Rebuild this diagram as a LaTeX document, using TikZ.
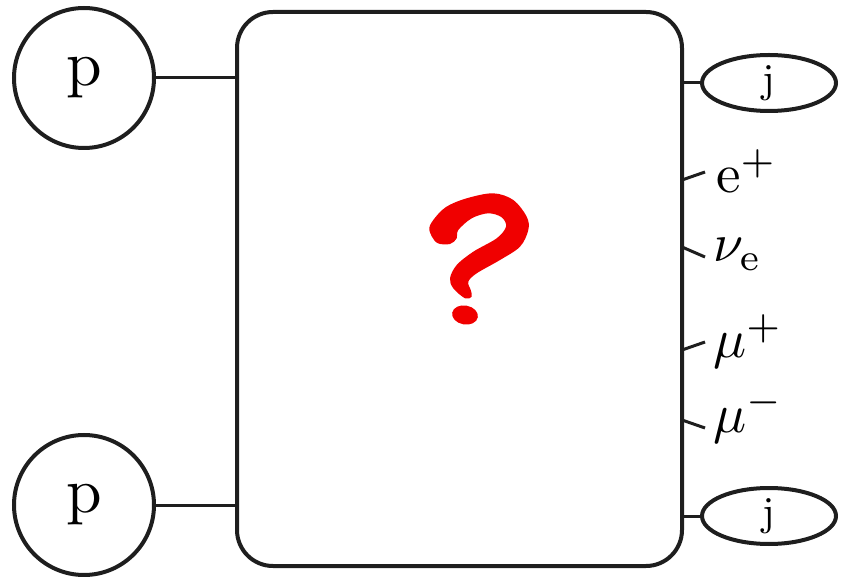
\documentclass[tikz,border=0pt]{standalone}
\usepackage{graphicx}
\usetikzlibrary{shapes.geometric}
\definecolor{ink}{RGB}{30,30,30}
\definecolor{qred}{RGB}{240,0,0}
\tikzset{
  pnode/.style={circle, draw=ink, line width=4pt, minimum size=140pt, inner sep=0pt},
  jnode/.style={ellipse, draw=ink, line width=4pt, minimum width=134pt, minimum height=56pt, inner sep=0pt},
  bigbox/.style={draw=ink, line width=4pt, rounded corners=36pt, minimum width=445pt, minimum height=554pt, inner sep=0pt},
  conn/.style={draw=ink, line width=3pt},
  tick/.style={draw=ink, line width=3pt},
  lab/.style={anchor=base west, inner sep=0pt}
}
\begin{document}
\begin{tikzpicture}[x=1pt,y=-1pt]
\useasboundingbox (0,0) rectangle (841,577);
\node[bigbox] (box) at (459.5,289) {};
\node[pnode] (p1) at (84,78) {\scalebox{6.4}{p}};
\node[pnode] (p2) at (84,505) {\scalebox{6.4}{p}};
\node[jnode] (j1) at (769,83) {\scalebox{4.1}{j}};
\node[jnode] (j2) at (769,516) {\scalebox{4.1}{j}};
\draw[conn] (p1.east) -- (p1.east -| box.west);
\draw[conn] (p2.east) -- (p2.east -| box.west);
\draw[conn] (j1.west -| box.east) -- (j1.west);
\draw[conn] (j2.west -| box.east) -- (j2.west);
% ticks
\coordinate (t1a) at (682,180); \coordinate (t1b) at (705,172);
\coordinate (t2a) at (682,247); \coordinate (t2b) at (705,257);
\coordinate (t3a) at (682,350); \coordinate (t3b) at (705,342);
\coordinate (t4a) at (682,420); \coordinate (t4b) at (705,428);
\draw[tick] (t1a) -- (t1b);
\draw[tick] (t2a) -- (t2b);
\draw[tick] (t3a) -- (t3b);
\draw[tick] (t4a) -- (t4b);
\node[lab] (le) at (716,193) {\scalebox{5.5}{$\mathrm{e}^{+}$}};
\node[lab] (ln) at (713,262) {\scalebox{5.4}{$\nu_{\mathrm{e}}$}};
\node[lab] (lmp) at (713,358) {\scalebox{5.5}{$\mu^{+}$}};
\node[lab] (lmm) at (713,432) {\scalebox{5.5}{$\mu^{-}$}};
% question mark
\fill[qred] plot[smooth cycle, tension=0.55] coordinates {
  (429.3,230) (433.3,220) (446,207) (466.7,198.3) (493.3,193.3) (513.3,200)
  (526.7,216.7) (528.3,230) (520,246.7) (500,260) (476.7,273.3)
  (468.3,281.7) (470.7,290) (471.7,296.7) (465,298.3) (453.3,288.3)
  (450,278.3) (456.7,265) (473.3,251.7) (496.7,238.3) (506,226.7)
  (501.7,217.3) (488.3,213.3) (471.7,218.3) (458.3,230) (456.7,238.3)
  (450,244) (436.7,242.7)};
\fill[qred, rotate around={-10:(465,315)}] (465,315) ellipse [x radius=13pt, y radius=9.5pt];
\end{tikzpicture}
\end{document}
